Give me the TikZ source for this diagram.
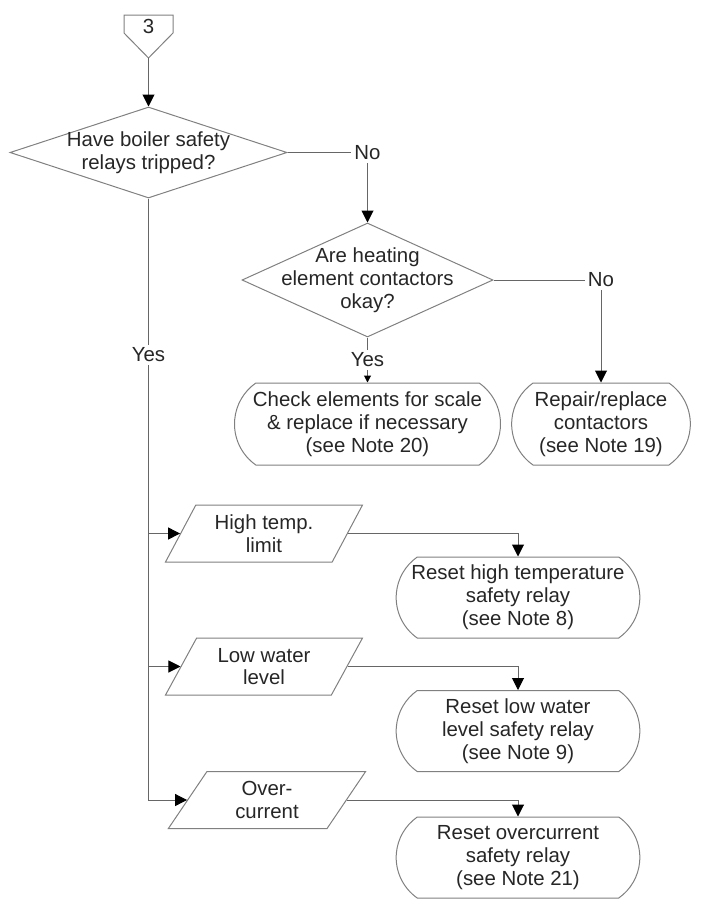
\documentclass[tikz,border=0pt]{standalone}
\usepackage{fontspec}
\setmainfont{Liberation Sans}
\usetikzlibrary{shapes.geometric,shapes.misc,arrows.meta}

\begin{document}
\begin{tikzpicture}[x=0.5pt,y=-0.5pt,
  every node/.style={font=\fontsize{10.2}{11.4}\selectfont, text=black!85},
  line/.style={draw=black!60, line width=0.5pt},
  arr/.style={line, -{Triangle[length=6pt,width=6pt,color=black]}},
  arrsmall/.style={line, -{Triangle[length=3.5pt,width=3.5pt,color=black]}},
  decision/.style={diamond, draw=black!50, line width=0.5pt, inner sep=0pt},
  io/.style={trapezium, trapezium left angle=64, trapezium right angle=116,
    trapezium stretches=true, draw=black!50, line width=0.5pt, align=center,
    minimum width=99pt, minimum height=28.5pt},
  term/.style={rounded rectangle, rounded rectangle arc length=110, draw=black!50,
    line width=0.5pt, align=center, minimum width=128.5pt, minimum height=40.5pt},
  lbl/.style={fill=white, inner sep=1.5pt}]

\useasboundingbox (0,0) rectangle (701,900);

\node[inner sep=0pt] (c3) at (148.5,26) {3};
\draw[draw=black!50, line width=0.5pt] (124,15) -- (173,15) -- (173,33) -- (148.5,58) -- (124,33) -- cycle;
\coordinate (c3tip) at (148.5,58);

\node[decision, minimum width=138.5pt, minimum height=45.5pt,
  label={[align=center]center:Have boiler safety\\relays tripped?}] (d1) at (148.5,152.5) {};
\node[decision, minimum width=125.5pt, minimum height=57pt,
  label={[align=center]center:Are heating\\element contactors\\okay?}] (d2) at (367.5,280) {};

\node[term, minimum width=127.5pt, minimum height=41pt] (chk) at (367.5,424) {Check elements for scale\\\& replace if necessary\\(see Note 20)};
\node[term, minimum width=96pt, minimum height=41pt] (rep) at (601,424) {Repair/replace\\contactors\\(see Note 19)};

\node[io] (p1) at (264,533.5) {High temp.\\limit};
\node[io] (p2) at (264,666.5) {Low water\\level};
\node[io] (p3) at (267,800) {Over-\\current};

\node[term] (r1) at (518,597.5) {Reset high temperature\\safety relay\\(see Note 8)};
\node[term] (r2) at (518,731) {Reset low water\\level safety relay\\(see Note 9)};
\node[term] (r3) at (518,857.5) {Reset overcurrent\\safety relay\\(see Note 21)};

\draw[arr] (c3tip) -- (d1.north);
\draw[arr] (d1.east) -| node[lbl,pos=0.5] (no1) {No} (d2.north);
\draw[arr] (d2.east) -| node[lbl,pos=0.5] (no2) {No} (rep.north);
\draw[arrsmall] (d2.south) -- node[lbl,pos=0.5] (yes2) {Yes} (chk.north);

\draw[arr] (d1.south) |- (p1.left side);
\draw[arr] (d1.south) |- (p2.left side);
\draw[arr] (d1.south) |- node[lbl,pos=0.13] (yes1) {Yes} (p3.left side);

\draw[arr] (p1.right side) -| (r1.north);
\draw[arr] (p2.right side) -| (r2.north);
\draw[arr] (p3.right side) -| (r3.north);

\end{tikzpicture}
\end{document}
